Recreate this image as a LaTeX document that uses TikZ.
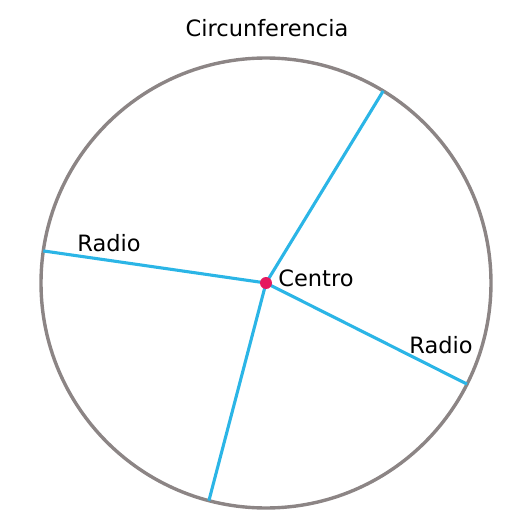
\documentclass[tikz,border=0pt]{standalone}
\usepackage{fontspec}
\setmainfont{DejaVu Sans}
\usetikzlibrary{positioning, calc}
\definecolor{cgray}{HTML}{8C8585}
\definecolor{cblue}{HTML}{2BB5E6}
\definecolor{cred}{HTML}{E5195E}
\tikzset{
  rim/.style={draw=cgray, line width=3.4pt},
  radius line/.style={cblue, line width=3.1pt},
  lbl/.style={font=\fontsize{22.5}{26}\selectfont, text=black, inner sep=0pt},
}

\begin{document}
\begin{tikzpicture}[x=1pt, y=1pt]
  \useasboundingbox (0,0) rectangle (531,-530);
  %% ── circle and centre ──
  \coordinate (centro) at (266,-283);
  \draw[rim] (centro) circle (225);
  \coordinate (p1) at ($(centro)+(58.6:225)$);
  \coordinate (p2) at ($(centro)+(171.8:225)$);
  \coordinate (p3) at ($(centro)+(-26.7:225)$);
  \coordinate (p4) at ($(centro)+(255.3:225)$);

  %% ── radii ──
  \foreach \p in {p1,p2,p3,p4}
    \draw[radius line] (centro) -- (\p);
  \fill[cred] (centro) circle (6);

  %% ── labels ──
  \node[lbl] (titulo) at (267,-28) {Circunferencia};
  \node[lbl] (radio1) at (109,-243) {Radio};
  \node[lbl] (centrolbl) at (316,-278) {Centro};
  \node[lbl] (radio2) at (441,-345) {Radio};
\end{tikzpicture}
\end{document}
